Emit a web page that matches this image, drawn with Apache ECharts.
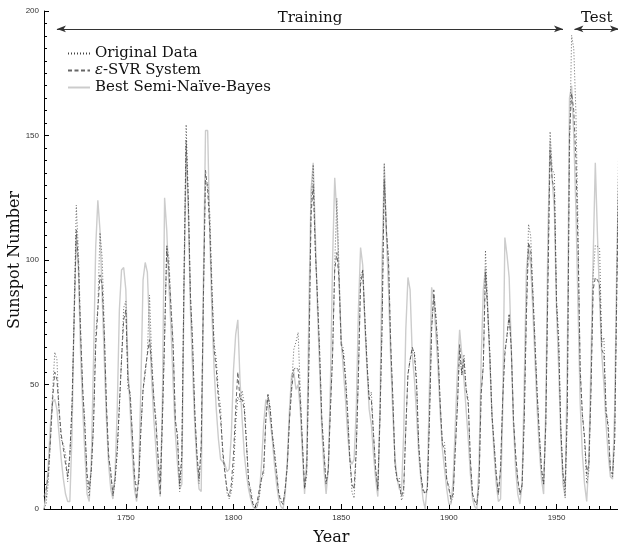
<!DOCTYPE html>
<html>
<head>
<meta charset="utf-8">
<script src="https://cdn.jsdelivr.net/npm/echarts@6/dist/echarts.min.js"></script>
<style>
html,body{margin:0;padding:0;background:#fff;}
#c{width:618px;height:544px;}
</style>
</head>
<body>
<div id="c"></div>
<script>
const startYear = 1712;
const endYear = 1979;
const xTickLabels = [1750, 1800, 1850, 1900, 1950];
const yTickLabels = [0, 50, 100, 150, 200];
const splitYear = 1955.8;

const originalData = [
0,2,11,27,47,63,60,39,28,26,22,11,21,40,78,122,103,73,47,35,
11,5,16,34,70,81,111,101,73,40,20,16,5,11,22,40,60,80.9,83.4,47.7,
47.8,30.7,12.2,9.6,10.2,32.4,47.6,54,62.9,85.9,61.2,45.1,36.4,20.9,11.4,37.8,69.8,106.1,100.8,81.6,
66.5,34.8,30.6,7,19.8,92.5,154.4,125.9,84.8,68.1,38.5,22.8,10.2,24.1,82.9,132,130.9,118.1,89.9,66.6,
60,46.9,41,21.3,16,6.4,4.1,6.8,14.5,34,45,43.1,47.5,42.2,28.1,10.1,8.1,2.5,0,1.4,
5,12.2,13.9,35.4,45.8,41.1,30.1,23.9,15.6,6.6,4,1.8,8.5,16.6,36.3,49.6,64.2,67,70.9,47.8,
27.5,8.5,13.2,56.9,121.5,138.3,103.2,85.7,64.6,36.7,24.2,10.7,15,40.1,61.5,98.5,124.7,96.3,66.6,64.5,
54.1,39,20.6,6.7,4.3,22.7,54.8,93.8,95.8,77.2,59.1,44,47,30.5,16.3,7.3,37.6,74,139,111.2,
101.6,66.2,44.7,17,11.3,12.4,3.4,6,32.3,54.3,59.7,63.7,63.5,52.2,25.4,13.1,6.8,6.3,7.1,35.6,
73,85.1,78,64,41.8,26.2,26.7,12.1,9.5,2.7,5,24.4,42,63.5,53.8,62,48.5,43.9,18.6,5.7,
3.6,1.4,9.6,47.4,57.1,103.9,80.6,63.6,37.6,26.1,14.2,5.8,16.7,44.3,63.9,69,77.8,64.9,35.7,21.2,
11.1,5.7,8.7,36.1,79.7,114.4,109.6,88.8,67.8,47.5,30.6,16.3,9.6,33.2,92.6,151.6,136.3,134.7,83.9,69.4,
31.5,13.9,4.4,38,141.7,190.2,184.8,159,112.3,53.9,37.5,27.9,10.2,15.1,47,93.8,105.9,105.5,104.5,66.6,
68.9,38,34.5,15.5,12.6,27.5,92.5,155.4
];

const svrData = [
5,8,14,28,44,55,52,40,30,24,18,13,22,42,76,112,98,70,48,32,
14,8,16,34,65,80,94,90,70,42,22,14,6,12,24,42,60,76,80,52,
45,30,14,4,12,32,48,56,62,68,58,44,34,20,6,36,68,105,96,80,
64,36,28,10,22,90,148,124,86,66,40,22,12,26,84,136,128,112,86,64,
56,44,36,24,14,8,5,10,22,40,55,44,44,40,26,12,6,2,1,3,
8,12,16,36,46,40,30,22,14,6,3,2,8,18,36,48,56,57,56,44,
26,8,16,60,118,130,104,84,62,36,22,10,16,40,62,96,103,92,66,62,
52,38,20,10,8,24,54,90,96,76,58,44,44,30,16,8,36,74,132,112,
98,66,44,18,12,10,5,8,32,54,60,65,62,50,26,14,8,6,8,36,
72,88,76,62,42,26,24,12,8,4,6,24,42,66,54,60,48,42,20,6,
3,2,10,46,58,95,80,62,38,26,14,6,16,44,62,70,78,64,36,22,
12,6,10,36,78,107,104,86,66,46,30,16,10,34,90,144,132,128,82,66,
32,14,9,40,150,167,160,140,104,56,38,29,14,18,48,88,93,92,90,64,
62,40,32,16,14,28,88,140
];

const snbData = [
0,6,18,34,43,44,40,30,20,12,6,3,3,30,80,110,96,62,40,22,
6,3,20,60,105,124,112,86,60,36,18,8,4,14,40,80,96,97,88,56,
40,22,8,3,14,50,92,99,95,72,52,36,24,12,5,44,125,112,90,72,
50,30,18,8,10,88,145,120,80,56,34,18,8,7,90,152,152,110,78,56,
40,28,20,19,18,15,16,30,56,70,76,52,36,22,14,8,4,1,0,1,
6,18,34,44,42,36,28,18,10,4,1,0,6,20,40,54,55,48,50,40,
22,6,20,80,128,139,110,80,56,32,16,6,16,50,100,133,118,92,68,56,
44,30,20,18,20,40,80,105,98,74,56,40,34,22,12,5,40,100,138,110,
88,60,38,20,12,8,7,30,72,93,88,62,52,38,22,12,4,0,10,50,
89,84,70,56,38,24,16,8,2,2,12,34,56,72,62,52,40,28,14,4,
1,0,18,60,88,97,82,60,38,22,10,3,4,40,109,102,93,64,34,16,
6,2,10,50,96,105,98,80,60,40,24,12,6,40,110,148,132,120,80,56,
28,10,5,60,165,170,150,120,80,42,22,10,3,20,60,101,139,110,84,62,
50,34,22,13,12,40,100,140
];

function pairs(values) {
  const out = [];
  for (let i = 0; i < values.length; i++) out.push([startYear + i, values[i]]);
  return out;
}

const minorYears = [];
for (let y = 1715; y <= 1975; y += 5) minorYears.push(y);

const serif = 'DejaVu Serif';
const chart = echarts.init(document.getElementById('c'), null, {renderer: 'canvas'});

chart.setOption({
  animation: false,
  backgroundColor: '#fff',
  grid: {left: 44, top: 11, width: 575, height: 498, containLabel: false, outerBoundsMode: 'none'},
  graphic: [{
    type: 'text', x: 15, y: 260, rotation: Math.PI / 2, silent: true,
    style: {text: 'Sunspot Number', fontFamily: serif, fontSize: 16, fill: '#111',
      textAlign: 'center', textVerticalAlign: 'middle'}
  }],
  legend: {
    orient: 'vertical',
    left: 62,
    top: 41,
    itemGap: 2,
    itemWidth: 22,
    itemHeight: 14,
    itemStyle: {opacity: 0},
    textStyle: {fontFamily: serif, fontSize: 15, color: '#111',
      rich: {i: {fontFamily: serif, fontStyle: 'italic', fontSize: 15, color: '#111'}}},
    formatter: function (name) {
      if (name === 'e-SVR System') return '{i|\u03b5}-SVR System';
      return name;
    },
    data: ['Original Data', 'e-SVR System', 'Best Semi-Na\u00efve-Bayes']
  },
  xAxis: [
    {
      type: 'value', min: startYear, max: endYear,
      name: 'Year', nameLocation: 'middle', nameGap: 21,
      nameTextStyle: {fontFamily: serif, fontSize: 16, color: '#111'},
      axisLine: {show: true, lineStyle: {color: '#000', width: 1}},
      axisTick: {show: true, inside: true, length: 5, customValues: xTickLabels, lineStyle: {color: '#000'}},
      axisLabel: {show: true, customValues: xTickLabels, formatter: function (v) { return String(v); },
        fontFamily: 'Liberation Sans', fontSize: 8, color: '#333', margin: 5},
      splitLine: {show: false}
    },
    {
      type: 'value', min: startYear, max: endYear, position: 'bottom',
      axisLine: {show: false},
      axisTick: {show: true, inside: true, length: 3, customValues: minorYears, lineStyle: {color: '#000'}},
      axisLabel: {show: false},
      splitLine: {show: false}
    }
  ],
  yAxis: {
    type: 'value', min: 0, max: 200, interval: 50,
    axisLine: {show: true, lineStyle: {color: '#000', width: 1}},
    axisTick: {show: true, inside: true, length: 5, lineStyle: {color: '#000'}},
    minorTick: {show: true, splitNumber: 10, length: 3, lineStyle: {color: '#000'}},
    axisLabel: {fontFamily: 'Liberation Sans', fontSize: 8, color: '#333', margin: 5},
    splitLine: {show: false}
  },
  series: [
    {
      name: 'Best Semi-Na\u00efve-Bayes', type: 'line', xAxisIndex: 0,
      data: pairs(snbData), symbol: 'none', smooth: false,
      lineStyle: {color: '#cccccc', width: 1.4, type: 'solid'},
      itemStyle: {color: '#cccccc'}, z: 2
    },
    {
      name: 'e-SVR System', type: 'line', xAxisIndex: 0,
      data: pairs(svrData), symbol: 'none',
      lineStyle: {color: '#666', width: 1, type: [4, 2.5]},
      itemStyle: {color: '#666'}, z: 3
    },
    {
      name: 'Original Data', type: 'line', xAxisIndex: 0,
      data: pairs(originalData), symbol: 'none',
      lineStyle: {color: '#444', width: 0.8, type: [1, 2]},
      itemStyle: {color: '#444'}, z: 4,
      markLine: {
        silent: true,
        animation: false,
        data: [
          [{coord: [1718, 192.8], symbol: 'arrow', symbolSize: [5, 9],
            lineStyle: {color: '#333', width: 1, type: 'solid'},
            label: {show: true, formatter: 'Training', position: 'insideMiddleTop', distance: 3,
              fontFamily: serif, fontSize: 15, color: '#111'}},
           {coord: [1953, 192.8], symbol: 'arrow', symbolSize: [5, 9]}],
          [{coord: [1958.3, 192.8], symbol: 'arrow', symbolSize: [5, 9],
            lineStyle: {color: '#333', width: 1, type: 'solid'},
            label: {show: true, formatter: 'Test', position: 'insideMiddleTop', distance: 3,
              fontFamily: serif, fontSize: 15, color: '#111'}},
           {coord: [1979, 192.8], symbol: 'arrow', symbolSize: [5, 9]}],
          [{coord: [splitYear, 0], symbol: 'none',
            lineStyle: {color: '#000', width: 1.6, type: 'solid'}, label: {show: false}},
           {coord: [splitYear, 201], symbol: 'none'}]
        ]
      }
    }
  ]
});
</script>
</body>
</html>
